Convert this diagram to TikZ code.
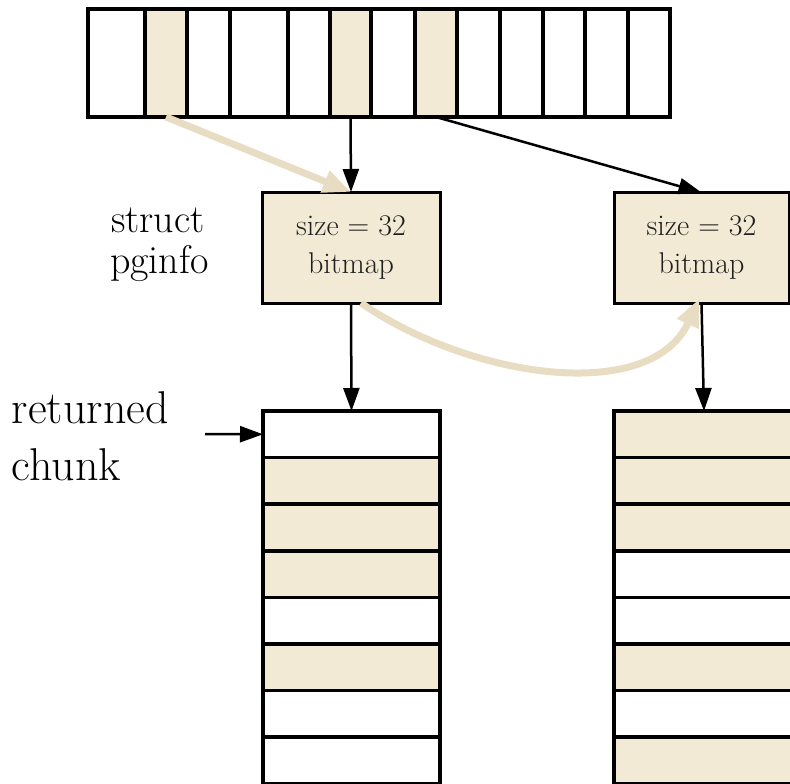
\documentclass[tikz,border=0pt]{standalone}
\usepackage{fontspec}
\usetikzlibrary{arrows.meta}
\definecolor{paper}{RGB}{243,234,214}
\definecolor{sand}{RGB}{232,221,194}
\tikzset{
  cell/.style={draw=black, line width=3.5pt, inner sep=0pt, outer sep=0pt,
    anchor=north west, minimum height=108pt},
  chunkrow/.style={draw=black, line width=3.5pt, inner sep=0pt, outer sep=0pt,
    anchor=north west, minimum height=46.6pt},
  infobox/.style={draw=black, line width=3pt, fill=paper, inner sep=0pt,
    outer sep=0pt, minimum height=111pt, align=center, text=black!88,
    font=\fontsize{30}{38}\selectfont},
  lbl/.style={anchor=base west, inner sep=0pt, outer sep=0pt},
  ptr/.style={line width=2.5pt, -{Triangle[length=23pt,width=16pt]}},
  trailarrow/.style={draw=sand, line width=7pt,
    -{Triangle[length=28pt,width=22pt]}},
}
\begin{document}
\begin{tikzpicture}[x=1pt,y=-1pt]
\useasboundingbox (0,0) rectangle (790,784);

% page array
\foreach \i/\a/\b/\f in {1/88/145/white, 2/145/187/paper, 3/187/230/white,
    4/230/288/white, 5/288/330/white, 6/330/371/paper, 7/371/415/white,
    8/415/457/paper, 9/457/500/white, 10/500/543/white, 11/543/585/white,
    12/585/628/white, 13/628/670/white} {
  \pgfmathsetmacro\w{\b-\a}
  \node[cell, fill=\f, minimum width=\w pt] (c\i) at (\a,9) {};
}

% pginfo structures
\node[infobox, minimum width=178pt] (p1) at (351,247.5) {size = 32\\bitmap};
\node[infobox, minimum width=175pt] (p2) at (701.5,248) {size = 32\\bitmap};

% chunk columns
\foreach \i/\f in {1/white, 2/paper, 3/paper, 4/paper, 5/white, 6/paper,
    7/white, 8/white} {
  \node[chunkrow, fill=\f, minimum width=177pt] (l\i) at (263,{411+(\i-1)*46.6}) {};
}
\foreach \i/\f in {1/paper, 2/paper, 3/paper, 4/white, 5/white, 6/paper,
    7/white, 8/paper} {
  \node[chunkrow, fill=\f, minimum width=180pt] (r\i) at (614,{411+(\i-1)*46.6}) {};
}

% labels
\node[lbl, font=\fontsize{40}{40}\selectfont] (t1) at (111,232) {struct};
\node[lbl, font=\fontsize{40}{40}\selectfont] (t2) at (110,273) {pginfo};
\node[lbl, font=\fontsize{46}{46}\selectfont] (t3) at (12,423) {returned};
\node[lbl, font=\fontsize{46}{46}\selectfont] (t4) at (12,480) {chunk};

% connectors
\draw[trailarrow] (c2.south) -- (p1.north);
\draw[trailarrow] ([xshift=10pt]p1.south) .. controls (470,378) and (650,405) .. ([xshift=-2pt,yshift=5pt]p2.south);
\draw[ptr] (c6.south) -- (p1.north);
\draw[ptr] (c8.south) -- (p2.north);
\draw[ptr] (p1.south) -- (l1.north);
\draw[ptr] (p2.south) -- (r1.north);
\coordinate (rc) at (205,434);
\draw[ptr] (rc) -- (l1.west);
\end{tikzpicture}
\end{document}
